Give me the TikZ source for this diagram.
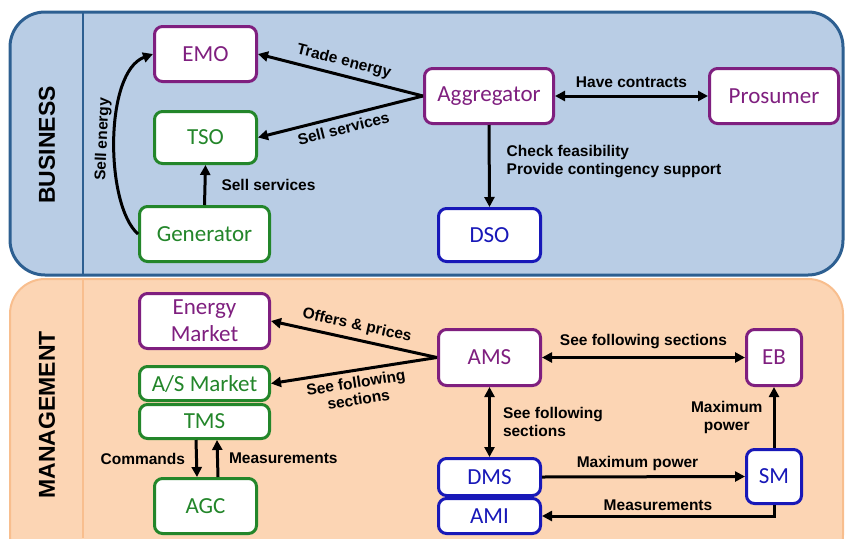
\documentclass[tikz,border=0pt]{standalone}
\usepackage{fontspec}
\setmainfont{Carlito}
\newfontfamily\labfont{Liberation Sans}
\usetikzlibrary{arrows.meta}

\definecolor{bizfill}{HTML}{B9CDE5}
\definecolor{bizline}{HTML}{2D5F91}
\definecolor{mgmtfill}{HTML}{FCD5B4}
\definecolor{mgmtline}{HTML}{F8BE8E}
\definecolor{mktpurple}{HTML}{7F1F7F}
\definecolor{gridgreen}{HTML}{23862A}
\definecolor{distblue}{HTML}{1818B8}

\tikzset{
  entity/.style={draw, fill=white, rounded corners=8pt, line width=3pt,
    inner sep=0pt, align=center, font=\fontsize{23}{27}\selectfont},
  purplebox/.style={entity, draw=mktpurple, text=mktpurple},
  greenbox/.style={entity, draw=gridgreen, text=gridgreen},
  bluebox/.style={entity, draw=distblue, text=distblue},
  tip/.style={Triangle[length=10pt,width=10pt]},
  flow/.style={line width=3pt, -{Triangle[length=10pt,width=10pt]}},
  revflow/.style={line width=3pt, {Triangle[length=10pt,width=10pt]}-},
  biflow/.style={line width=3pt, {Triangle[length=10pt,width=10pt]}-{Triangle[length=10pt,width=10pt]}},
  lbl/.style={font=\labfont\bfseries\fontsize{15.5}{18}\selectfont, text=black, inner sep=2pt},
  layer/.style={font=\labfont\bfseries\fontsize{23}{25}\selectfont, text=black, rotate=90},
}

\begin{document}
\begin{tikzpicture}[x=1pt,y=-1pt]
\useasboundingbox (0,0) rectangle (845,538);

% layer panels
\draw[fill=bizfill, draw=bizline, line width=3pt, rounded corners=35pt] (10,12) rectangle (843,275);
\draw[bizline, line width=2pt] (83,12) -- (83,275);
\begin{scope}
  \clip (0,0) rectangle (845,538);
  \draw[fill=mgmtfill, draw=mgmtline, line width=2pt, rounded corners=35pt] (10,279) rectangle (843,570);
  \draw[mgmtline, line width=2pt] (83,279) -- (83,538);
\end{scope}
\node[layer] (business) at (47,145) {BUSINESS};
\node[layer] (management) at (47,415) {MANAGEMENT};

% business layer
\node[purplebox, minimum width=102pt, minimum height=55pt] (emo) at (205.5,54) {EMO};
\node[greenbox, minimum width=102pt, minimum height=52pt] (tso) at (205.5,137.5) {TSO};
\node[greenbox, minimum width=130pt, minimum height=55pt] (gen) at (204.5,234) {Generator};
\node[purplebox, minimum width=129pt, minimum height=55pt] (agg) at (489,96) {Aggregator};
\node[purplebox, minimum width=129pt, minimum height=55pt] (pro) at (774,96) {Prosumer};
\node[bluebox, minimum width=102pt, minimum height=53pt] (dso) at (489.5,235) {DSO};

\draw[revflow] (emo.east) -- (agg.west) node[lbl, midway, sloped, above=3pt] {Trade energy};
\draw[revflow] (tso.east) -- (agg.west) node[lbl, midway, sloped, below=3pt] {Sell services};
\draw[flow] (gen.north) -- (tso.south) node[lbl, midway, right=13pt] {Sell services};
\draw[flow] (gen.west) .. controls (105,205) and (104,72) .. (emo.west)
  node[lbl, pos=0.5, sloped, above=1pt] {Sell energy};
\draw[biflow] (agg.east) -- (pro.west) node[lbl, midway, above=5pt] {Have contracts};
\draw[flow] (agg.south) -- (dso.north)
  node[lbl, pos=0.45, right=14pt, align=left] {Check feasibility\\Provide contingency support};

% management layer
\node[purplebox, minimum width=130pt, minimum height=55pt] (em) at (204.5,321) {Energy\\Market};
\node[greenbox, minimum width=130pt, minimum height=34pt] (asm) at (204.5,383.5) {A/S Market};
\node[greenbox, minimum width=130pt, minimum height=34pt] (tms) at (204.5,421.5) {TMS};
\node[greenbox, minimum width=102pt, minimum height=55pt] (agc) at (205.5,506) {AGC};
\node[purplebox, minimum width=102pt, minimum height=56pt] (ams) at (489.5,357.5) {AMS};
\node[purplebox, minimum width=55pt, minimum height=56pt] (eb) at (774,357.5) {EB};
\node[bluebox, minimum width=102pt, minimum height=37pt] (dms) at (489.5,477) {DMS};
\node[bluebox, minimum width=102pt, minimum height=35pt] (ami) at (489.5,516) {AMI};
\node[bluebox, minimum width=55pt, minimum height=54pt] (sm) at (774,476.5) {SM};

\draw[revflow] (em.east) -- (ams.west) node[lbl, midway, sloped, above=3pt] {Offers \& prices};
\draw[revflow] (asm.east) -- (ams.west)
  node[lbl, midway, sloped, below=3pt, align=center, font=\labfont\bfseries\fontsize{15.5}{17}\selectfont] {See following\\sections};
\draw[biflow] (ams.east) -- (eb.west) node[lbl, midway, above=5pt] {See following sections};
\draw[biflow] (ams.south) -- (dms.north)
  node[lbl, midway, right=10pt, align=left] {See following\\sections};
\draw[flow] (dms.east) -- (sm.west) node[lbl, midway, xshift=-6pt, above=3pt] {Maximum power};
\draw[flow] (sm.south) |- (ami.east) node[lbl, pos=0.75, above=2pt] {Measurements};
\draw[flow] (sm.north) -- (eb.south) node[lbl, midway, left=8pt, align=center] {Maximum\\power};
\draw[flow] ([xshift=-8.5pt]tms.south) -- ([xshift=-8.5pt]agc.north)
  node[lbl, midway, left=8pt] {Commands};
\draw[flow] ([xshift=12.5pt]agc.north) -- ([xshift=12.5pt]tms.south)
  node[lbl, midway, right=8pt] {Measurements};
\end{tikzpicture}
\end{document}
